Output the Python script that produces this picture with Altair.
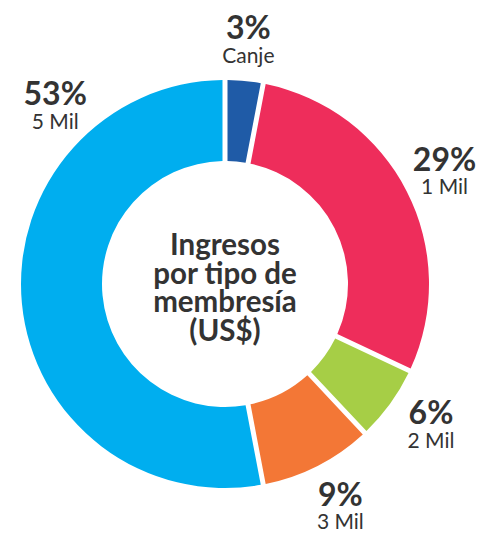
import math
import altair as alt
import pandas as pd

# ---- data ----
categories = ["Canje", "1 Mil", "2 Mil", "3 Mil", "5 Mil"]
shares = [3, 29, 6, 9, 53]
pct_labels = ["3%", "29%", "6%", "9%", "53%"]
center_title = ["Ingresos", "por tipo de", "membresía", "(US$)"]

# ---- styling / layout ----
colors = ["#1F5BA7", "#EE2D5B", "#A6CE46", "#F37736", "#00AEEF"]
TEXT_COLOR = "#333333"
FONT = "Lato"
CX, CY = 217, 276          # ring centre inside the plot area
R_OUT, R_IN = 204, 123
LABEL_R = 248
# label anchor positions along the ring (percent) where they differ from the slice middle
label_pos_override = {"1 Mil": 17.3, "2 Mil": 34.4, "3 Mil": 42.3, "5 Mil": 88.0}

df = pd.DataFrame({"cat": categories, "value": shares, "pct": pct_labels})
df["end"] = df["value"].cumsum()
df["start"] = df["end"] - df["value"]
df["mid"] = (df["start"] + df["end"]) / 2
df["label_pos"] = [label_pos_override.get(c, m) for c, m in zip(df["cat"], df["mid"])]

theta_scale = alt.Scale(domain=[0, 100], range=[0, 2 * math.pi])
base = alt.Chart(df)

arcs = base.mark_arc(innerRadius=R_IN, outerRadius=R_OUT, padAngle=0.021).encode(
    theta=alt.Theta("start:Q", scale=theta_scale, stack=False),
    theta2="end:Q",
    color=alt.Color("cat:N", scale=alt.Scale(domain=categories, range=colors), legend=None),
    x=alt.value(CX),
    y=alt.value(CY),
)

pct_text = base.mark_text(
    radius=LABEL_R, font=FONT, fontSize=32, fontWeight="bold", color=TEXT_COLOR,
    baseline="alphabetic", align="center", dy=2,
).encode(
    theta=alt.Theta("label_pos:Q", scale=theta_scale, stack=False),
    text="pct:N",
    x=alt.value(CX),
    y=alt.value(CY),
)

name_text = base.mark_text(
    radius=LABEL_R, font=FONT, fontSize=21, color=TEXT_COLOR,
    baseline="alphabetic", align="center", dy=25.5,
).encode(
    theta=alt.Theta("label_pos:Q", scale=theta_scale, stack=False),
    text="cat:N",
    x=alt.value(CX),
    y=alt.value(CY),
)

title_text = alt.Chart(pd.DataFrame({"k": [0]})).mark_text(
    text=center_title, font=FONT, fontSize=29.5, fontWeight="bold", color=TEXT_COLOR,
    baseline="alphabetic", align="center", lineHeight=28.5, dy=-29,
).encode(x=alt.value(CX), y=alt.value(CY))

chart = alt.layer(arcs, pct_text, name_text, title_text).properties(
    width=468, height=521, autosize="none", padding=0
).configure_view(stroke=None)

chart.save("out.html", embed_options={"renderer": "svg", "actions": False})
